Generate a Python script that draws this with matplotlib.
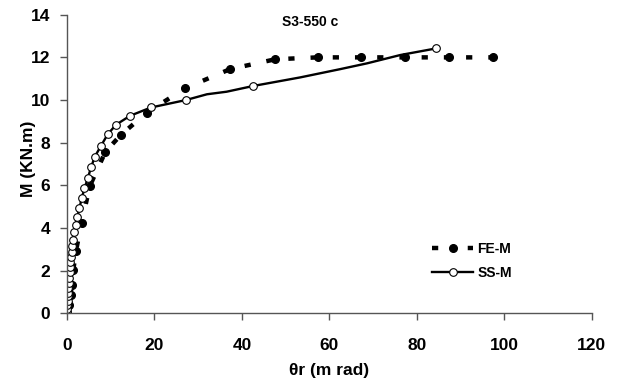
import numpy as np
import matplotlib
matplotlib.use("Agg")
import matplotlib.pyplot as plt

plt.rcParams['font.family'] = ['Liberation Sans', 'DejaVu Sans']
plt.rcParams['font.weight'] = 'bold'

# FE-M (filled markers, dashed)
fe_theta = [0.0, 0.4, 0.85, 1.07, 1.45, 2.06, 3.36, 5.2, 8.8, 12.3, 18.2, 27.0, 37.3, 47.6,
            57.3, 67.3, 77.3, 87.4, 97.3]
fe_m     = [0.0, 0.4, 0.86, 1.33, 2.03, 2.93, 4.25, 5.96, 7.58, 8.36, 9.4, 10.55, 11.45, 11.91,
            12.0, 12.0, 12.0, 12.0, 12.0]

# SS-M (open markers, solid)
ss_theta = [0.0, 0.05, 0.1, 0.15, 0.2, 0.25, 0.3, 0.4, 0.5, 0.6, 0.7, 0.8, 0.95, 1.1, 1.25,
            1.45, 1.7, 1.95, 2.35, 2.85, 3.4, 4.0, 4.75, 5.5, 6.35, 7.8, 9.3, 11.2, 14.4,
            19.2, 27.2, 42.6, 84.4]
ss_m     = [0.05, 0.2, 0.39, 0.59, 0.79, 0.97, 1.17, 1.4, 1.66, 1.92, 2.17, 2.43, 2.63, 2.89, 3.15,
            3.46, 3.82, 4.16, 4.51, 4.94, 5.42, 5.86, 6.33, 6.84, 7.34, 7.86, 8.39, 8.84, 9.26,
            9.65, 10.0, 10.66, 12.42]
# intermediate SS-M readings that carry the line only (no marker)
ss_line_theta = [32.0, 36.5, 53.3, 62.5, 68.6, 76.2]
ss_line_m     = [10.27, 10.39, 11.06, 11.45, 11.72, 12.11]

line_theta = np.array(ss_theta + ss_line_theta)
line_m = np.array(ss_m + ss_line_m)
order = np.argsort(line_theta)
line_theta, line_m = line_theta[order], line_m[order]

fig = plt.figure(figsize=(6.19, 3.84), dpi=100)
ax = fig.add_axes([0.1082, 0.184, 0.848, 0.7777])

ax.plot(fe_theta, fe_m, color='black', linestyle=(0, (1.4, 3.6)), linewidth=3.2,
        marker='o', markersize=5.5, markerfacecolor='black', markeredgecolor='black',
        label='FE-M')
ax.plot(line_theta, line_m, color='black', linestyle='-', linewidth=1.7)
ax.plot(ss_theta, ss_m, color='black', linestyle='none',
        marker='o', markersize=5.5, markerfacecolor='white', markeredgecolor='black',
        markeredgewidth=0.8)
# legend proxy for SS-M
ax.plot([], [], color='black', linestyle='-', linewidth=1.7, marker='o', markersize=5.5,
        markerfacecolor='white', markeredgecolor='black', markeredgewidth=0.8, label='SS-M')

ax.set_xlim(0, 120)
ax.set_ylim(0, 14)
ax.set_xticks(np.arange(0, 121, 20))
ax.set_yticks(np.arange(0, 15, 2))
ax.spines['top'].set_visible(False)
ax.spines['right'].set_visible(False)
for s in ('left', 'bottom'):
    ax.spines[s].set_color('#555555')
    ax.spines[s].set_linewidth(1.0)
ax.tick_params(direction='out', length=5, width=1, color='#555555', labelsize=12.5, pad=7)
ax.tick_params(axis='x', pad=13)
for lab in ax.get_xticklabels() + ax.get_yticklabels():
    lab.set_fontweight('bold')
ax.set_xlabel('θr (m rad)', fontsize=12.5, fontweight='bold', labelpad=7)
ax.set_ylabel('M (KN.m)', fontsize=12.5, fontweight='bold')
ax.yaxis.set_label_coords(-0.059, 0.517)
ax.text(0.463, 0.998, 'S3-550 c', transform=ax.transAxes, ha='center', va='top',
        fontsize=10, fontweight='bold')

leg = ax.legend(loc='center left', bbox_to_anchor=(0.671, 0.175), frameon=False,
                handlelength=3.0, handletextpad=0.3, labelspacing=0.75,
                prop={'weight': 'bold', 'size': 10})
# dash at both ends of the FE-M legend sample, like the original
leg.legend_handles[0].set_linestyle((0, (1.4, 6.64)))

fig.savefig('out.png', dpi=100)
